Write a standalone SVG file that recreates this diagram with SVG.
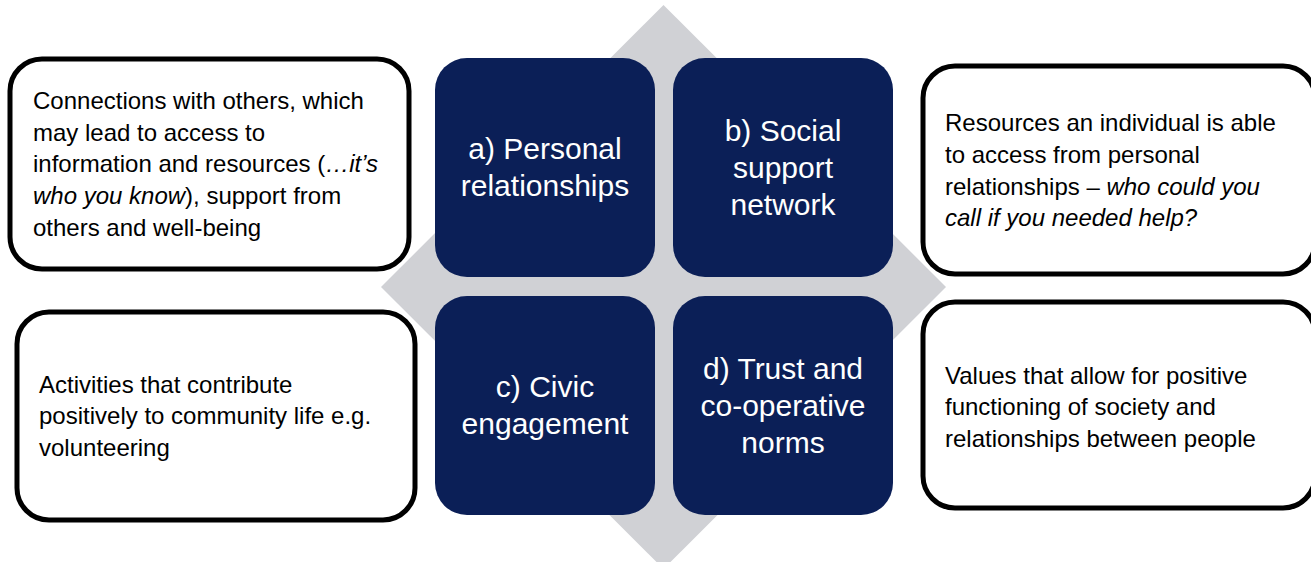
<svg xmlns="http://www.w3.org/2000/svg" width="1311" height="562" viewBox="0 0 1311 562">
<style>
.desc{fill:#fff;stroke:#000;stroke-width:5}
.core{fill:#0B1F57}
.dt{font-family:"Liberation Sans",Arial,sans-serif;font-size:24px;fill:#000}
.ct{font-family:"Liberation Sans",Arial,sans-serif;font-size:30px;fill:#fff;text-anchor:middle}
.it{font-style:italic}
</style>
<rect width="1311" height="562" fill="#fff"/>
<polygon id="diamond" points="663.5,5 946,287 663.5,569 381,287" fill="#D0D1D5"/>
<g id="connectors"/>
<g id="node-a">
<rect class="core" x="435" y="58" width="220" height="219" rx="32"/>
<text class="ct" x="545" y="159">a) Personal</text>
<text class="ct" x="545" y="196">relationships</text>
</g>
<g id="node-b">
<rect class="core" x="673" y="58" width="220" height="219" rx="32"/>
<text class="ct" x="783" y="141">b) Social</text>
<text class="ct" x="783" y="178">support</text>
<text class="ct" x="783" y="215">network</text>
</g>
<g id="node-c">
<rect class="core" x="435" y="296" width="220" height="219" rx="32"/>
<text class="ct" x="545" y="397">c) Civic</text>
<text class="ct" x="545" y="434">engagement</text>
</g>
<g id="node-d">
<rect class="core" x="673" y="296" width="220" height="219" rx="32"/>
<text class="ct" x="783" y="379">d) Trust and</text>
<text class="ct" x="783" y="416">co-operative</text>
<text class="ct" x="783" y="453">norms</text>
</g>
<g id="desc-a">
<rect class="desc" x="10" y="59" width="399" height="210" rx="32"/>
<text class="dt" x="33" y="109">Connections with others, which</text>
<text class="dt" x="33" y="141">may lead to access to</text>
<text class="dt" x="33" y="172">information and resources (<tspan class="it">…it’s</tspan></text>
<text class="dt" x="33" y="204"><tspan class="it">who you know</tspan>), support from</text>
<text class="dt" x="33" y="236">others and well-being</text>
</g>
<g id="desc-b">
<rect class="desc" x="923" y="66" width="392" height="208" rx="32"/>
<text class="dt" x="945" y="131">Resources an individual is able</text>
<text class="dt" x="945" y="163">to access from personal</text>
<text class="dt" x="945" y="195">relationships – <tspan class="it">who could you</tspan></text>
<text class="dt" x="945" y="226"><tspan class="it">call if you needed help?</tspan></text>
</g>
<g id="desc-c">
<rect class="desc" x="17" y="312" width="398" height="208" rx="32"/>
<text class="dt" x="39" y="393">Activities that contribute</text>
<text class="dt" x="39" y="424">positively to community life e.g.</text>
<text class="dt" x="39" y="456">volunteering</text>
</g>
<g id="desc-d">
<rect class="desc" x="923" y="302" width="392" height="206" rx="32"/>
<text class="dt" x="945" y="384">Values that allow for positive</text>
<text class="dt" x="945" y="415">functioning of society and</text>
<text class="dt" x="945" y="447">relationships between people</text>
</g>
</svg>
